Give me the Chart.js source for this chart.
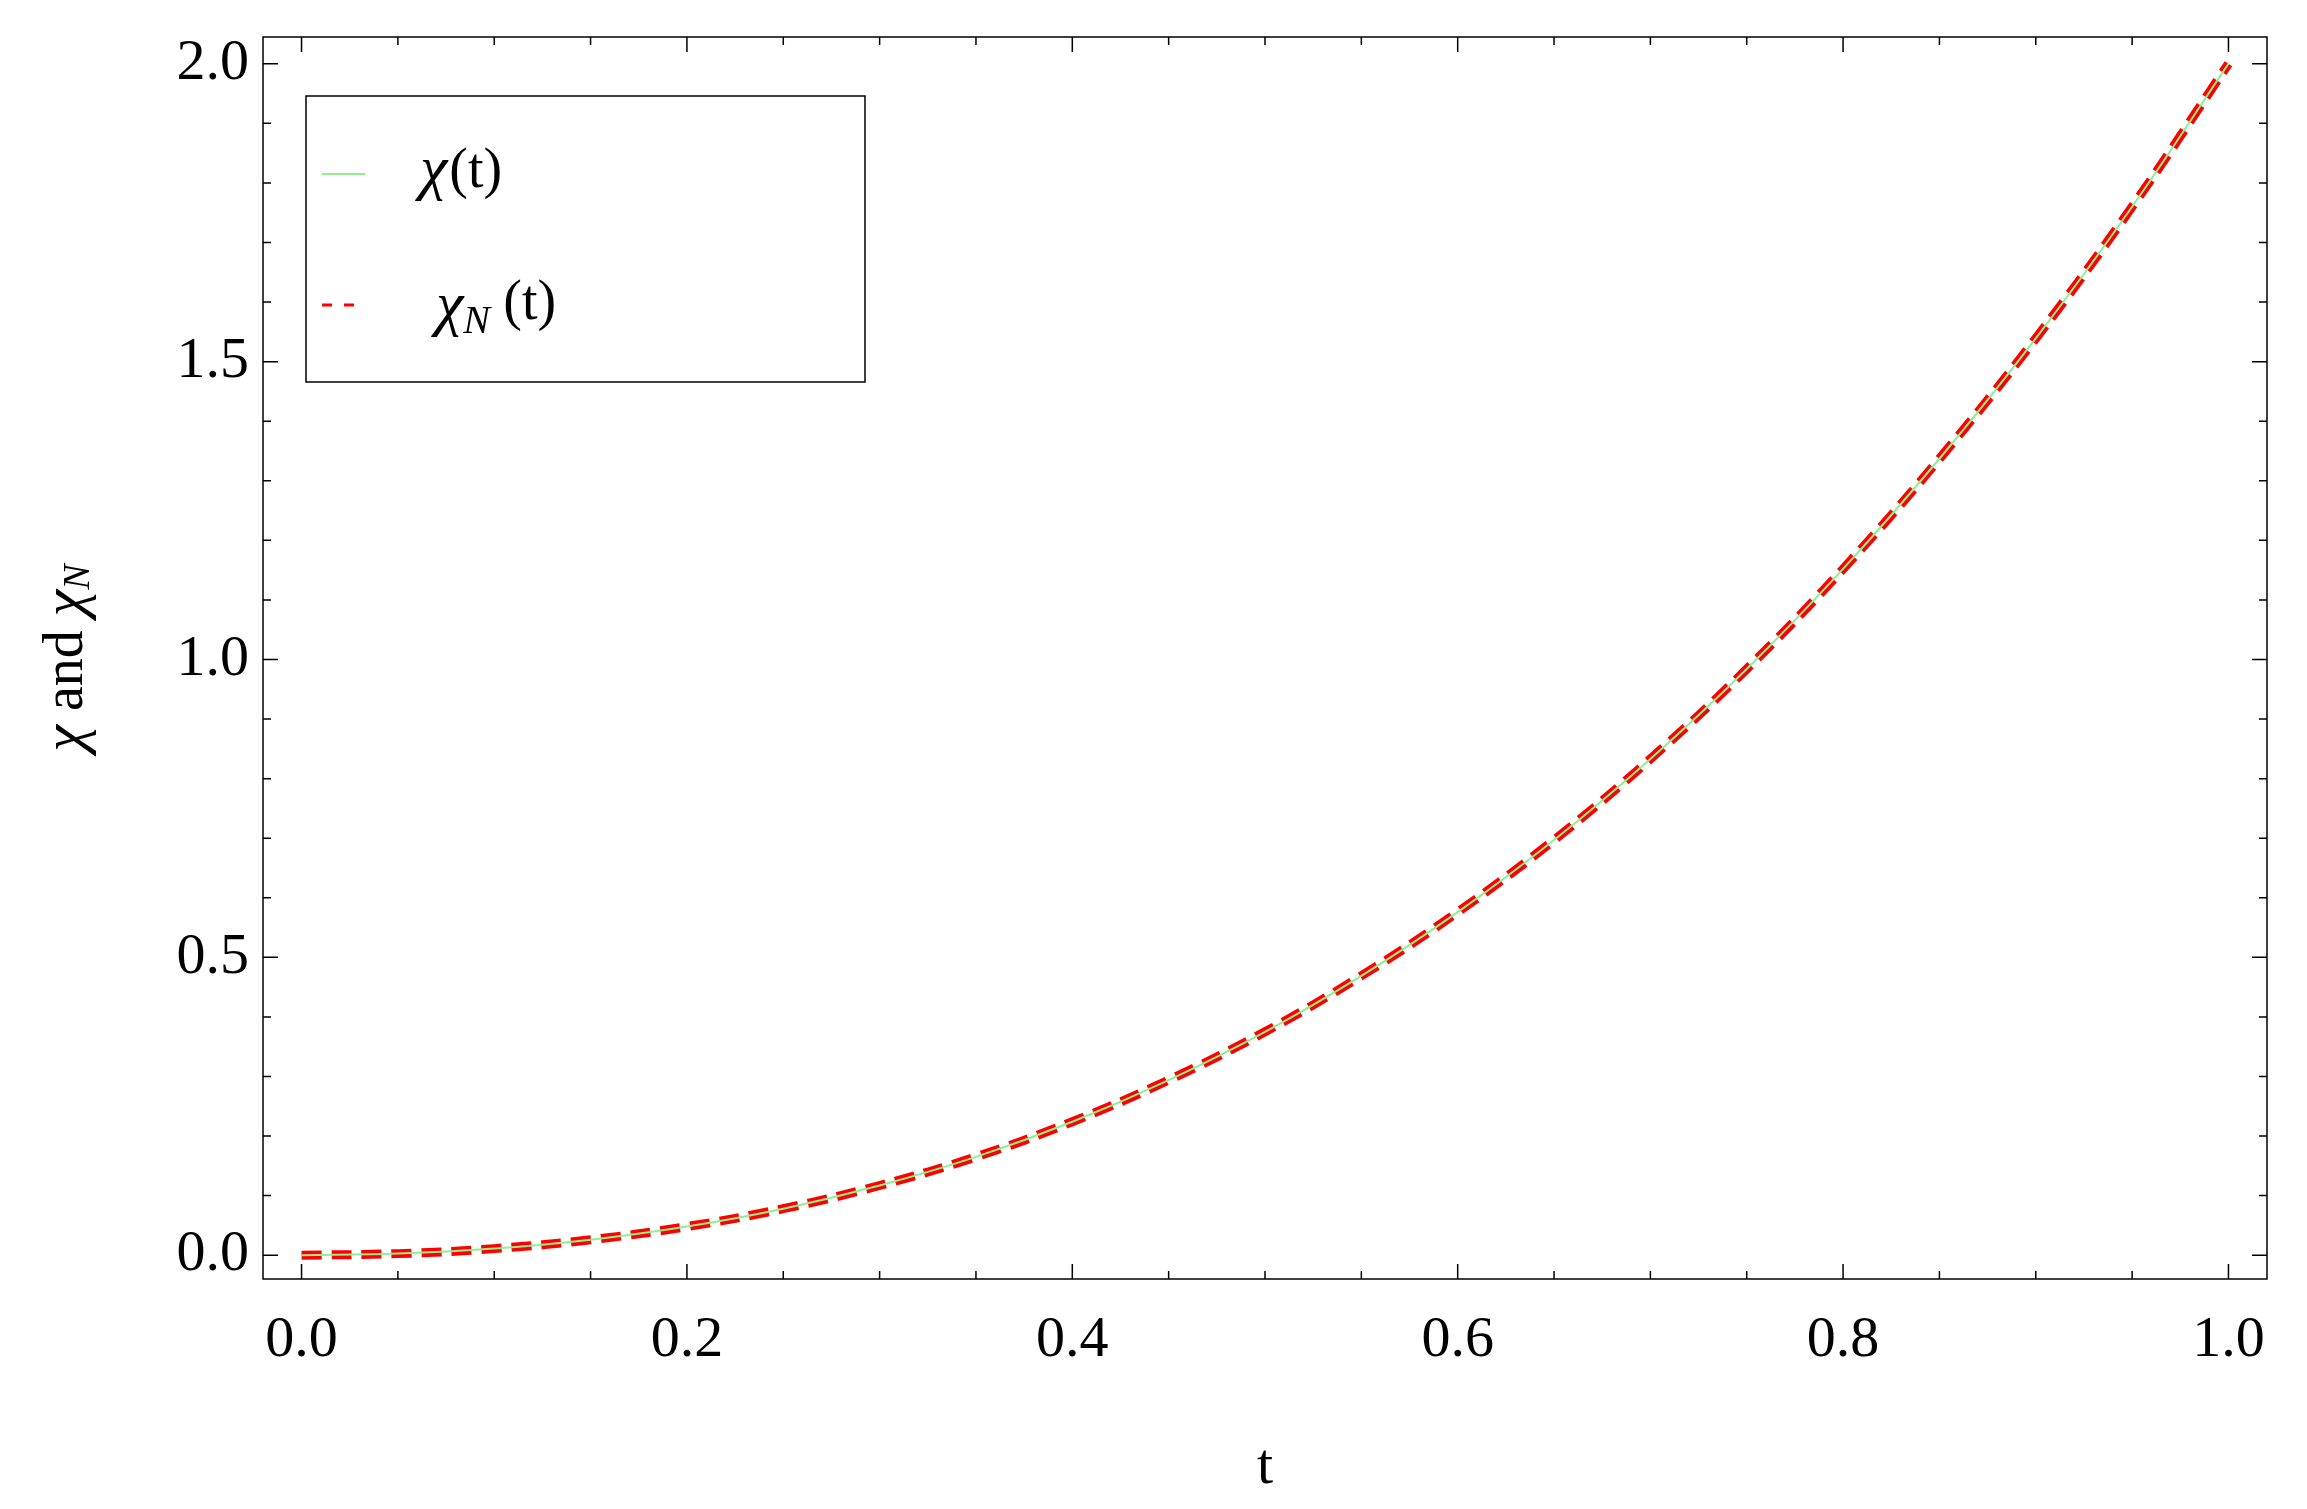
<!DOCTYPE html>
<html>
<head>
<meta charset="utf-8">
<script src="https://cdn.jsdelivr.net/npm/chart.js@4"></script>
<style>
  html, body { margin: 0; padding: 0; background: #fff; }
  #wrap { width: 2307px; height: 1509px; }
</style>
</head>
<body>
<div id="wrap"><canvas id="lineChart"></canvas></div>
<script>
var tValues = [0, 0.05, 0.1, 0.15, 0.2, 0.25, 0.3, 0.35, 0.4, 0.45, 0.5,
               0.55, 0.6, 0.65, 0.7, 0.75, 0.8, 0.85, 0.9, 0.95, 1.0];
var chiValues = [0, 0.0026, 0.011, 0.0259, 0.048, 0.078, 0.117, 0.165, 0.224, 0.294, 0.375,
                 0.469, 0.576, 0.697, 0.833, 0.984, 1.152, 1.337, 1.539, 1.760, 2.0];
var chiNValues = [0, 0.0026, 0.011, 0.0259, 0.048, 0.078, 0.117, 0.165, 0.224, 0.294, 0.375,
                  0.469, 0.576, 0.697, 0.833, 0.984, 1.152, 1.337, 1.539, 1.760, 2.0];
var xTickLabels = ['0.0', '0.2', '0.4', '0.6', '0.8', '1.0'];
var yTickLabels = ['0.0', '0.5', '1.0', '1.5', '2.0'];

function pts(ys) {
    return tValues.map(function (t, i) { return { x: t, y: ys[i] }; });
}

var FONT = '"Liberation Serif", "DejaVu Serif", serif';

// frame, inward ticks, labels, titles and legend
var framePlugin = {
    id: 'frame',
    afterDraw: function (chart) {
        var c = chart.ctx, a = chart.chartArea;
        var xs = chart.scales.x, ys = chart.scales.y;
        c.save();
        c.strokeStyle = '#000';
        c.lineWidth = 1.5;
        c.strokeRect(a.left, a.top, a.right - a.left, a.bottom - a.top);

        var i, v, px, len;
        for (i = 0; i <= 20; i++) {
            v = i * 0.05;
            px = xs.getPixelForValue(v);
            len = (i % 4 === 0) ? 15 : 8;
            c.beginPath();
            c.moveTo(px, a.bottom); c.lineTo(px, a.bottom - len);
            c.moveTo(px, a.top); c.lineTo(px, a.top + len);
            c.stroke();
        }
        for (i = 0; i <= 20; i++) {
            v = i * 0.1;
            px = ys.getPixelForValue(v);
            len = (i % 5 === 0) ? 15 : 8;
            c.beginPath();
            c.moveTo(a.left, px); c.lineTo(a.left + len, px);
            c.moveTo(a.right, px); c.lineTo(a.right - len, px);
            c.stroke();
        }

        c.fillStyle = '#000';
        c.font = '58px ' + FONT;
        c.textAlign = 'center';
        c.textBaseline = 'middle';
        xTickLabels.forEach(function (lab) {
            c.fillText(lab, xs.getPixelForValue(parseFloat(lab)), a.bottom + 62);
        });
        c.textAlign = 'right';
        yTickLabels.forEach(function (lab) {
            c.fillText(lab, a.left - 14, ys.getPixelForValue(parseFloat(lab)));
        });

        // x title
        c.textAlign = 'center';
        c.fillText('t', (a.left + a.right) / 2, 1468);

        // y title
        c.save();
        c.translate(67, (a.top + a.bottom) / 2);
        c.rotate(-Math.PI / 2);
        c.textAlign = 'left';
        var parts = [['italic 60px ', 'χ', 0], ['56px ', ' and ', 0], ['italic 60px ', 'χ', 0], ['italic 38px ', 'N', 12]];
        var total = 0;
        parts.forEach(function (p) { c.font = p[0] + FONT; total += c.measureText(p[1]).width; });
        var x0 = -total / 2;
        parts.forEach(function (p) {
            c.font = p[0] + FONT;
            c.fillText(p[1], x0, p[2]);
            x0 += c.measureText(p[1]).width;
        });
        c.restore();

        // legend
        c.lineWidth = 1.5;
        c.strokeRect(306, 96, 559, 286);
        c.strokeStyle = '#90ee90';
        c.lineWidth = 2;
        c.beginPath(); c.moveTo(322, 174); c.lineTo(365, 174); c.stroke();
        c.strokeStyle = '#ff0000';
        c.lineWidth = 3;
        c.setLineDash([10, 12]);
        c.beginPath(); c.moveTo(322, 305); c.lineTo(365, 305); c.stroke();
        c.setLineDash([]);
        c.textAlign = 'left';
        c.font = 'italic 62px ' + FONT;
        c.fillText('χ', 420, 172);
        var w = c.measureText('χ').width;
        c.font = '56px ' + FONT;
        c.fillText('(t)', 420 + w + 2, 172);
        c.font = 'italic 62px ' + FONT;
        c.fillText('χ', 436, 308);
        c.font = 'italic 40px ' + FONT;
        c.fillText('N', 436 + w, 322);
        c.font = '56px ' + FONT;
        c.fillText('(t)', 436 + w + 40, 304);
        c.restore();
    }
};

var ctx = document.getElementById('lineChart').getContext('2d');
var myChart = new Chart(ctx, {
    type: 'line',
    data: {
        datasets: [{
            label: 'χ(t)',
            data: pts(chiValues),
            borderColor: '#90ee90',
            borderWidth: 2,
            pointRadius: 0,
            tension: 0.4
        }, {
            label: 'χN(t)',
            data: pts(chiNValues),
            borderColor: '#ff0000',
            borderWidth: 9,
            borderDash: [20, 10],
            borderCapStyle: 'butt',
            pointRadius: 0,
            tension: 0.4
        }]
    },
    options: {
        responsive: true,
        maintainAspectRatio: false,
        animation: false,
        layout: { padding: { left: 263, right: 40, top: 37, bottom: 230 } },
        plugins: { legend: { display: false }, tooltip: { enabled: false } },
        scales: {
            x: { type: 'linear', min: -0.02, max: 1.02, display: false },
            y: { type: 'linear', min: -0.04, max: 2.045, display: false }
        }
    },
    plugins: [framePlugin]
});
</script>
</body>
</html>
